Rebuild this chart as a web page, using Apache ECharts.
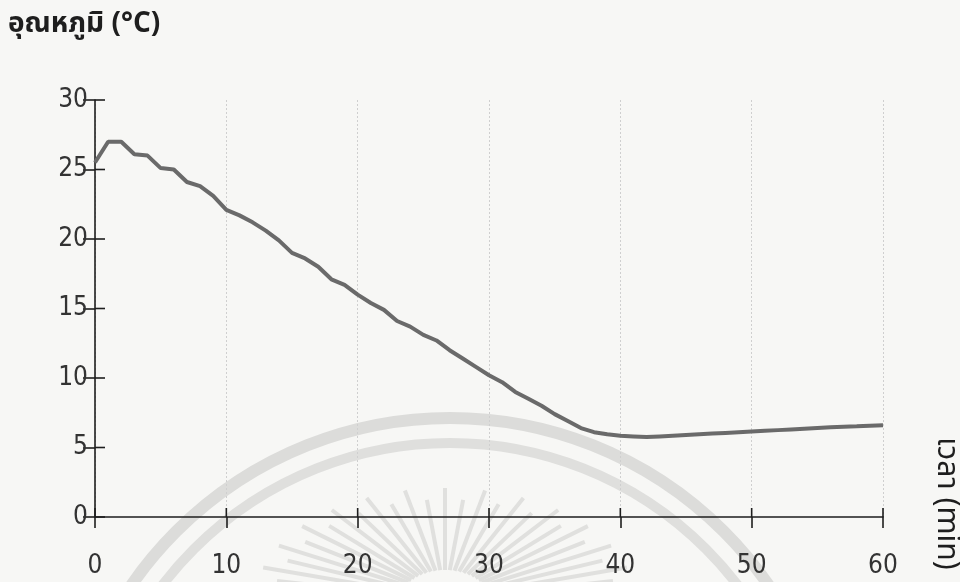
<!DOCTYPE html>
<html>
<head>
<meta charset="utf-8">
<script src="https://cdn.jsdelivr.net/npm/echarts@6/dist/echarts.min.js"></script>
<style>
html,body{margin:0;padding:0;background:#f7f7f5;}
#chart{width:960px;height:582px;}
</style>
</head>
<body>
<div id="chart"></div>
<script>
// Cooling curve: temperature (°C) recorded each minute
const timeMin = [0,1,2,3,4,5,6,7,8,9,10,11,12,13,14,15,16,17,18,19,20,
  21,22,23,24,25,26,27,28,29,30,31,32,33,34,35,36,37,38,39,40,
  41,42,43,44,45,46,47,48,49,50,51,52,53,54,55,56,57,58,59,60];
const tempC = [25.5,27.0,27.0,26.1,26.0,25.1,25.0,24.1,23.8,23.1,22.1,
  21.7,21.2,20.6,19.9,19.0,18.6,18.0,17.1,16.7,16.0,
  15.4,14.9,14.1,13.7,13.1,12.7,12.0,11.4,10.8,10.2,
  9.7,9.0,8.5,8.0,7.4,6.9,6.4,6.1,5.95,5.85,
  5.8,5.75,5.8,5.85,5.9,5.95,6.0,6.05,6.1,6.15,
  6.2,6.25,6.3,6.35,6.4,6.45,6.5,6.52,6.56,6.6];
const xTicks = [0,10,20,30,40,50,60];
const yTicks = [0,5,10,15,20,25,30];

const yTitle = 'อุณหภูมิ (°C)';
const xTitle = 'เวลา (min)';

const numFont = '"Liberation Sans Narrow","DejaVu Sans Condensed","Roboto",sans-serif';
const thaiFont = '"Noto Sans Thai","Noto Sans","DejaVu Sans",sans-serif';
const points = timeMin.map((t, i) => [t, tempC[i]]);

const chart = echarts.init(document.getElementById('chart'), null, {renderer: 'canvas'});
const tickStyle = {color: '#1e1e1e', width: 1.6};

chart.setOption({
  backgroundColor: '#f7f7f5',
  animation: false,
  grid: {left: 95, right: 77, top: 100, bottom: 65, containLabel: false},
  xAxis: {
    type: 'value', min: xTicks[0], max: xTicks[xTicks.length - 1], interval: 10,
    axisLine: {show: true, lineStyle: tickStyle},
    axisTick: {show: true, length: 11, lineStyle: tickStyle},
    axisLabel: {margin: 36, color: '#333', fontSize: 26, fontFamily: numFont},
    splitLine: {show: true, lineStyle: {color: '#cfcfcf', width: 1, type: [2, 2]}}
  },
  yAxis: {
    type: 'value', min: yTicks[0], max: yTicks[yTicks.length - 1], interval: 5,
    axisLine: {show: true, lineStyle: tickStyle},
    axisTick: {show: true, length: 12, lineStyle: tickStyle},
    axisLabel: {margin: 7, color: '#333', fontSize: 26, fontFamily: numFont},
    splitLine: {show: false}
  },
  series: [{
    type: 'line',
    data: points,
    showSymbol: false,
    smooth: false,
    lineStyle: {color: '#6a6a6a', width: 4}
  }]
});

// faint emblem behind the plot: two arcs and a fan of rays
const extras = [];
const ec = {x: 450, y: 805};
[[387, 12, '#dcdcda'], [362, 10, '#dfdfdd']].forEach(([r, w, c]) => {
  extras.push({
    type: 'arc', z: -10, silent: true,
    shape: {cx: ec.x, cy: ec.y, r: r, startAngle: Math.PI, endAngle: Math.PI * 2},
    style: {stroke: c, lineWidth: w, fill: null}
  });
});
const rayC = {x: 445, y: 600};
for (let k = 0; k <= 26; k++) {
  const a = Math.PI * (0.06 + 0.88 * k / 26);
  const len = 0.9 + 0.1 * (k % 2);
  extras.push({
    type: 'line', z: -10, silent: true,
    shape: {
      x1: rayC.x - Math.cos(a) * 45, y1: rayC.y - Math.sin(a) * 30,
      x2: rayC.x - Math.cos(a) * 190 * len, y2: rayC.y - Math.sin(a) * 112 * len
    },
    style: {stroke: '#e0e0de', lineWidth: 4}
  });
}

// inner halves of the crossing ticks, placed through the axis scales
yTicks.forEach(v => {
  const p = chart.convertToPixel({gridIndex: 0}, [xTicks[0], v]);
  extras.push({type: 'line', z: 5, silent: true,
    shape: {x1: p[0], y1: p[1], x2: p[0] + 10, y2: p[1]},
    style: {stroke: tickStyle.color, lineWidth: tickStyle.width}});
});
xTicks.forEach(v => {
  const p = chart.convertToPixel({gridIndex: 0}, [v, yTicks[0]]);
  extras.push({type: 'line', z: 5, silent: true,
    shape: {x1: p[0], y1: p[1], x2: p[0], y2: p[1] - 9},
    style: {stroke: tickStyle.color, lineWidth: tickStyle.width}});
});

extras.push(
  {
    type: 'text', left: 8, top: 12,
    style: {text: yTitle, fontSize: 28, fontWeight: 'bold', fill: '#1e1e1e', fontFamily: thaiFont}
  },
  {
    type: 'text', x: 959, y: 437, rotation: -Math.PI / 2,
    style: {text: xTitle, fontSize: 30, fill: '#1e1e1e', fontFamily: thaiFont}
  }
);

chart.setOption({graphic: extras});
</script>
</body>
</html>
